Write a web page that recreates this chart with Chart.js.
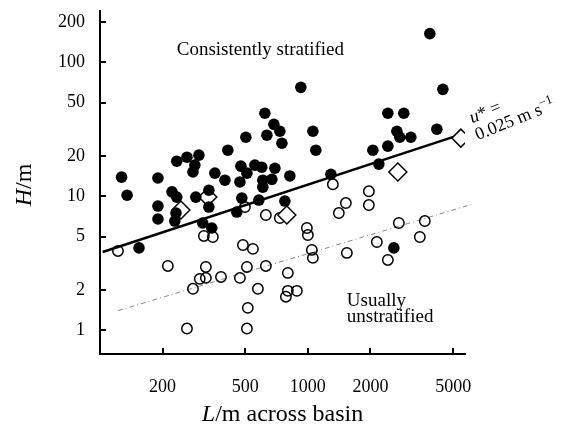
<!DOCTYPE html>
<html>
<head>
<meta charset="utf-8">
<script src="https://cdn.jsdelivr.net/npm/chart.js@4"></script>
<style>
  html, body { margin: 0; padding: 0; background: #fff; }
  #wrap { width: 565px; height: 434px; }
</style>
</head>
<body>
<div id="wrap"><canvas id="chart" width="565" height="434"></canvas></div>
<script>
// ==================== Data ====================

const X_TICKS = [200, 500, 1000, 2000, 5000];
const Y_TICKS = [1, 2, 5, 10, 20, 50, 100, 200];

// Consistently stratified basins (filled circles): L in m, H in m
const stratL = [127, 135, 154, 190, 190, 190, 222, 234, 234, 262, 299, 286, 280, 232, 229,
  289, 334, 334, 312, 345, 357, 399, 412, 476, 556, 600, 694, 509, 471, 607, 671, 607, 819,
  503, 621, 686, 733, 635, 750, 925, 1057, 1092, 1290, 481, 455, 581, 775, 2054, 2425, 2195,
  2425, 2894, 2679, 2769, 3128, 4174, 3861, 4459, 2592];
const stratH = [13.9, 10.2, 4.12, 13.7, 8.46, 6.77, 10.8, 9.87, 18.3, 19.6, 20.3, 17.1, 15.2, 7.5, 6.54,
  9.87, 11.1, 8.32, 6.32, 5.8, 14.9, 13.2, 22.1, 16.8, 17.1, 16.5, 16.2, 14.9, 12.8, 13.2, 13.4, 11.7, 14.2,
  27.6, 41.7, 34.5, 30.6, 28.6, 24.9, 65.1, 30.6, 22.1, 14.6, 9.7, 7.63, 9.38, 9.22, 22.1, 23.7, 17.4,
  41.7, 41.7, 30.6, 27.6, 27.6, 31.7, 164, 62.9, 4.12];

// Usually unstratified basins (open circles)
const unstratL = [122, 212, 316, 349, 323, 302, 323, 280, 382, 262, 487, 544, 509, 628, 471, 575,
  801, 801, 885, 784, 514, 509, 498, 628, 733, 989, 1000, 1045, 1057, 1319, 1409, 1523, 1540,
  1965, 1965, 2147, 2425, 2739, 3653, 3456];
const unstratH = [3.91, 3.02, 5.06, 4.97, 2.97, 2.42, 2.46, 2.04, 2.5, 1.03, 4.33, 4.05, 2.97, 3.02, 2.46, 2.04,
  2.68, 1.97, 1.97, 1.78, 1.47, 1.03, 8.32, 7.25, 6.89, 5.8, 5.14, 3.98, 3.47, 12.3, 7.5, 8.91, 3.78,
  10.9, 8.61, 4.56, 3.35, 6.32, 6.54, 4.97];

// Diamonds
const diamondL = [245, 330, 792, 2709, 5442];
const diamondH = [7.9, 9.87, 7.25, 15.2, 27.2];

// u* = 0.025 m/s boundary (solid) and lower boundary (dash-dot)
const boundaryL = [103, 5100];
const boundaryH = [3.84, 28];
const lowerL = [122, 6200];
const lowerH = [1.4, 8.75];

// ==================== Helpers ====================

const SERIF = "'Liberation Serif', 'Times New Roman', serif";

function pairs(xs, ys) {
  return xs.map((x, i) => ({ x, y: ys[i] }));
}

function drawRuns(ctx, runs, x, y, align) {
  let total = 0;
  runs.forEach((r) => { ctx.font = r.font; r.w = ctx.measureText(r.text).width; total += r.w; });
  let cx = align === "center" ? x - total / 2 : x;
  runs.forEach((r) => {
    ctx.font = r.font;
    ctx.fillText(r.text, cx, y + (r.dy || 0));
    cx += r.w;
  });
}

// inward tick marks, axis titles and the text labels inside the plot
const decorations = {
  id: "decorations",
  afterDraw(chart) {
    const { ctx, chartArea: area, scales: { x, y } } = chart;
    ctx.save();
    ctx.strokeStyle = "#000";
    ctx.lineWidth = 2;
    ctx.beginPath();
    X_TICKS.forEach((v) => {
      const px = Math.round(x.getPixelForValue(v));
      ctx.moveTo(px, area.bottom);
      ctx.lineTo(px, area.bottom - 6);
    });
    Y_TICKS.forEach((v) => {
      const py = Math.round(y.getPixelForValue(v));
      ctx.moveTo(area.left, py);
      ctx.lineTo(area.left + 6, py);
    });
    ctx.stroke();

    ctx.fillStyle = "#000";
    ctx.textBaseline = "middle";
    drawRuns(ctx, [
      { text: "L", font: `italic 24px ${SERIF}` },
      { text: "/m across basin", font: `24px ${SERIF}` },
    ], (area.left + area.right) / 2, 415, "center");

    ctx.save();
    ctx.translate(25, 185);
    ctx.rotate(-Math.PI / 2);
    drawRuns(ctx, [
      { text: "H", font: `italic 24px ${SERIF}` },
      { text: "/m", font: `24px ${SERIF}` },
    ], 0, 0, "center");
    ctx.restore();

    ctx.textBaseline = "alphabetic";
    ctx.font = `19px ${SERIF}`;
    ctx.fillText("Consistently stratified", x.getPixelForValue(234), y.getPixelForValue(112.8));
    ctx.fillText("Usually", x.getPixelForValue(1540), y.getPixelForValue(1.52));
    ctx.fillText("unstratified", x.getPixelForValue(1540), y.getPixelForValue(1.157));

    ctx.save();
    ctx.translate(x.getPixelForValue(6570), y.getPixelForValue(26.2));
    ctx.rotate(-22 * Math.PI / 180);
    drawRuns(ctx, [
      { text: "u", font: `italic 18px ${SERIF}` },
      { text: "* =", font: `18px ${SERIF}` },
    ], 1, -18, "left");
    drawRuns(ctx, [
      { text: "0.025 m s", font: `18px ${SERIF}` },
      { text: "\u22121", font: `13px ${SERIF}`, dy: -7 },
    ], 0, 0, "left");
    ctx.restore();

    ctx.restore();
  },
};

// ==================== Chart ====================

new Chart(document.getElementById("chart"), {
  type: "scatter",
  data: {
    datasets: [
      {
        label: "Consistently stratified",
        data: pairs(stratL, stratH),
        pointRadius: 5.8,
        backgroundColor: "#000",
        borderWidth: 0,
      },
      {
        label: "Diamonds",
        data: pairs(diamondL, diamondH),
        pointStyle: "rectRot",
        pointRadius: 9,
        backgroundColor: "#fff",
        borderColor: "#000",
        borderWidth: 1.5,
      },
      {
        label: "Usually unstratified",
        data: pairs(unstratL, unstratH),
        pointRadius: 5.2,
        backgroundColor: "rgba(0,0,0,0)",
        borderColor: "#000",
        borderWidth: 1.5,
      },
      {
        label: "u* = 0.025",
        data: pairs(boundaryL, boundaryH),
        showLine: true,
        pointRadius: 0,
        borderColor: "#000",
        borderWidth: 2.5,
      },
      {
        label: "lower",
        data: pairs(lowerL, lowerH),
        showLine: true,
        pointRadius: 0,
        borderColor: "#888",
        borderWidth: 1,
        borderDash: [5, 3, 1, 3],
        clip: false,
      },
    ],
  },
  options: {
    responsive: false,
    animation: false,
    events: [],
    layout: { padding: { top: 10, right: 100, bottom: 0, left: 0 } },
    plugins: { legend: { display: false }, tooltip: { enabled: false } },
    scales: {
      x: {
        type: "logarithmic",
        min: 100,
        max: 5700,
        afterFit: (scale) => { scale.height = 80; scale.paddingLeft = 0; scale.paddingRight = 0; },
        afterBuildTicks: (scale) => { scale.ticks = X_TICKS.map((v) => ({ value: v })); },
        grid: { display: false },
        border: { display: true, color: "#000", width: 2 },
        ticks: {
          autoSkip: false,
          maxRotation: 0,
          padding: 14,
          color: "#000",
          font: { family: SERIF, size: 18 },
          callback: (v) => String(v),
        },
      },
      y: {
        type: "logarithmic",
        min: 0.665,
        max: 244,
        afterFit: (scale) => { scale.width = 100; scale.paddingTop = 0; scale.paddingBottom = 0; },
        afterBuildTicks: (scale) => { scale.ticks = Y_TICKS.map((v) => ({ value: v })); },
        grid: { display: false },
        border: { display: true, color: "#000", width: 2 },
        ticks: {
          autoSkip: false,
          padding: 7,
          color: "#000",
          font: { family: SERIF, size: 18 },
          callback: (v) => String(v),
        },
      },
    },
  },
  plugins: [decorations],
});
</script>
</body>
</html>
